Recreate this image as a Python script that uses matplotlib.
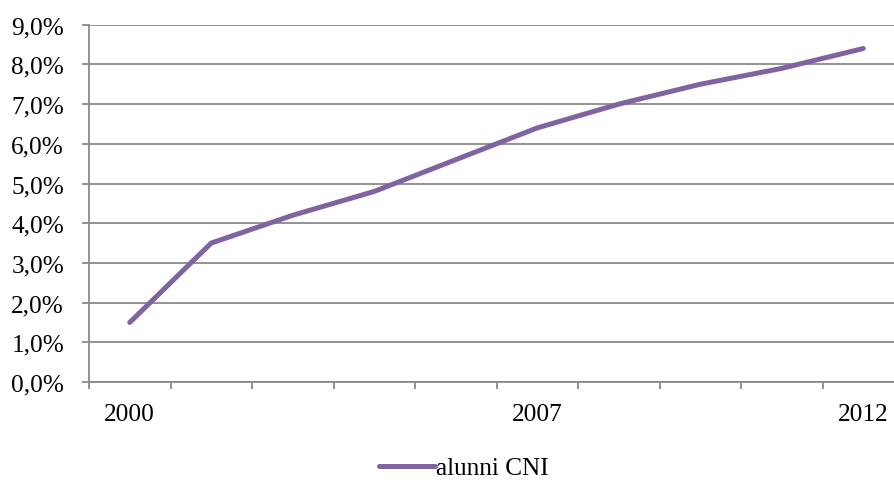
import matplotlib
matplotlib.use("Agg")
import matplotlib.pyplot as plt
from matplotlib.ticker import FixedLocator, FuncFormatter

years = ["2000", "", "", "", "", "2007", "", "", "", "2012"]
values = [1.5, 3.5, 4.2, 4.8, 5.6, 6.4, 7.0, 7.5, 7.9, 8.4]
series_name = "alunni CNI"
y_ticks = [0, 1, 2, 3, 4, 5, 6, 7, 8, 9]

plt.rcParams['font.family'] = ['Liberation Serif', 'DejaVu Serif']
W, H = 894, 481
fig = plt.figure(figsize=(W / 100, H / 100), dpi=100)
left, right, top, bottom = 89, 904, 25.7, 383
ax = fig.add_axes([left / W, (H - bottom) / H, (right - left) / W, (bottom - top) / H])

grid_c = "#8a8a8a"
fs = 18.2
x = list(range(len(values)))
ax.plot(x, values, color="#8064A2", lw=3.6, solid_capstyle="round", solid_joinstyle="round",
        label=series_name, zorder=3)

ax.set_xlim(-0.5, len(values) - 0.5)
ax.set_ylim(0, 9)
ax.yaxis.set_major_locator(FixedLocator(y_ticks))
ax.yaxis.set_major_formatter(FuncFormatter(lambda v, p: f"{v:.1f}".replace(".", ",") + "%"))
ax.grid(axis="y", color=grid_c, lw=1.3, zorder=1)

ax.set_xticks(x)
ax.set_xticklabels(years)
ax.set_xticks([i - 0.5 for i in range(len(values) + 1)], minor=True)
ax.tick_params(axis="x", which="major", length=0, pad=15, labelsize=fs)
ax.tick_params(axis="x", which="minor", length=5, width=1.3, color=grid_c, direction="out")
ax.tick_params(axis="y", length=5, width=1.3, color=grid_c, pad=13, labelsize=fs)

for s in ["top", "right"]:
    ax.spines[s].set_visible(False)
for s in ["left", "bottom"]:
    ax.spines[s].set_color(grid_c)
    ax.spines[s].set_linewidth(1.3)

leg = fig.legend(loc="center", bbox_to_anchor=(464 / W, (H - 469) / H), frameon=False,
                 fontsize=fs, handlelength=2.2, handletextpad=0.05)

fig.savefig("out.png", dpi=100)
